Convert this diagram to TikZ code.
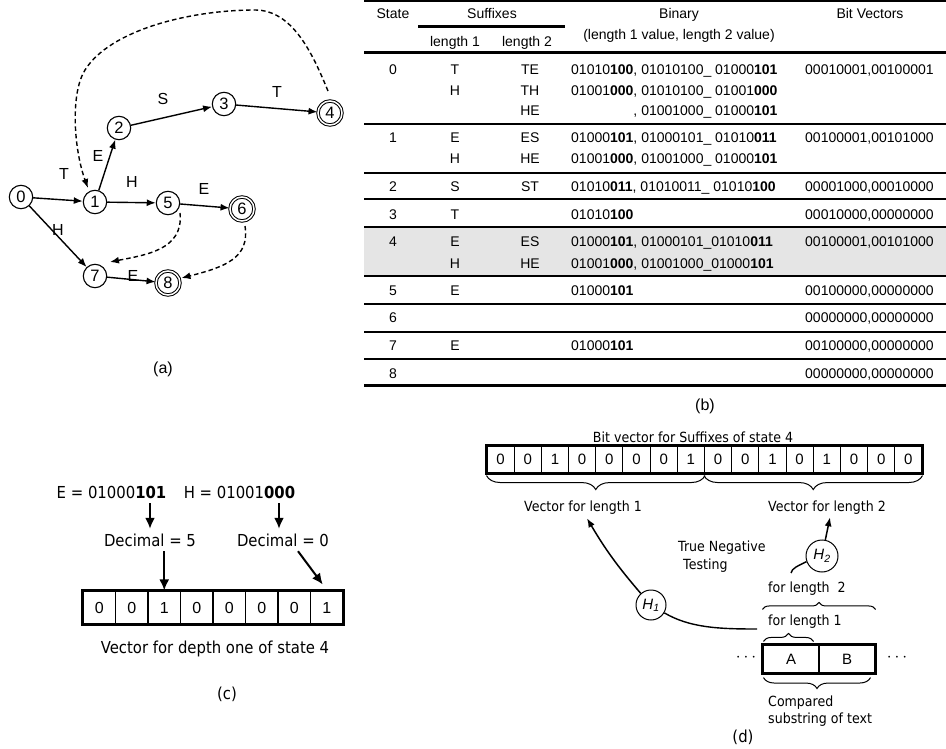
\documentclass[tikz,border=0pt]{standalone}
\usepackage{fontspec}
\setmainfont{Liberation Sans}
\newfontfamily\tah[FakeStretch=0.9]{DejaVu Sans}
\usetikzlibrary{arrows.meta,decorations.pathreplacing}
\begin{document}
\begin{tikzpicture}[x=1pt,y=-1pt,
  st/.style={circle,draw,line width=1.1pt,minimum size=23.4pt,inner sep=0pt,font=\fontsize{16.5}{18}\selectfont},
  acc/.style={st,double,double distance=1.5pt,line width=1pt,minimum size=24pt},
  ed/.style={-{Latex[length=9pt,width=7pt]},line width=1.4pt},
  dsh/.style={ed,dash pattern=on 4.5pt off 3pt},
  lb/.style={font=\fontsize{16}{18}\selectfont,inner sep=0pt,text height=11.5pt,text depth=0pt},
  tb/.style={font=\fontsize{14}{16}\selectfont,inner sep=0pt,text height=10pt,text depth=0pt},
  tbw/.style={tb,anchor=west},
  tahc/.style={font=\tah\fontsize{16.5}{19}\selectfont,inner sep=0pt,text height=12pt,text depth=0pt},
  tahd/.style={font=\tah\fontsize{14}{16}\selectfont,inner sep=0pt,text height=10.2pt,text depth=0pt},
  cellc/.style={draw,line width=1.1pt,inner sep=0pt,font=\fontsize{16}{18}\selectfont,minimum width=32.5pt,minimum height=33pt},
  celld/.style={draw,line width=1.1pt,inner sep=0pt,font=\fontsize{15}{17}\selectfont,minimum width=27.19pt,minimum height=27pt},
  arc/.style={-{Latex[length=11pt,width=10pt]},line width=2pt},
  ard/.style={-{Latex[length=9pt,width=7pt]},line width=1.5pt},
  brc/.style={decorate,line width=1pt}
]
\useasboundingbox (0,0) rectangle (946,749);

% ---------------- (a) automaton ----------------
\node[st]  (n0) at (21,197) {0};
\node[st]  (n1) at (95,202) {1};
\node[st]  (n2) at (119,128) {2};
\node[st]  (n3) at (224,104) {3};
\node[acc] (n4) at (330,113) {4};
\node[st]  (n5) at (168,203) {5};
\node[acc] (n6) at (242,209) {6};
\node[st]  (n7) at (95,276) {7};
\node[acc] (n8) at (168,283) {8};

\draw[ed] (n0) -- (n1);
\draw[ed] (n1) -- (n2);
\draw[ed] (n2) -- (n3);
\draw[ed] (n3) -- (n4);
\draw[ed] (n1) -- (n5);
\draw[ed] (n5) -- (n6);
\draw[ed] (n0) -- (n7);
\draw[ed] (n7) -- (n8);

\node[lb] (la1) at (64,174) {T};
\node[lb] (la2) at (98,156) {E};
\node[lb] (la3) at (163,99) {S};
\node[lb] (la4) at (277,92) {T};
\node[lb] (la5) at (132,182) {H};
\node[lb] (la6) at (204,189) {E};
\node[lb] (la7) at (58,230) {H};
\node[lb] (la8) at (133,276) {E};

\draw[dsh] ([xshift=-2pt,yshift=22pt]n4.center) .. controls (312,52) and (292,10) .. (255,10)
   .. controls (190,10) and (110,30) .. (85,70)
   .. controls (70,94) and (74,150) .. ([xshift=-7pt,yshift=14pt]n1.center);
\draw[dsh] ([xshift=12pt,yshift=-10pt]n5.center) .. controls (184,250) and (145,255) .. ([xshift=15pt,yshift=14pt]n7.center);
\draw[dsh] ([xshift=3pt,yshift=-17pt]n6.center) .. controls (250,258) and (225,267) .. ([xshift=13.5pt,yshift=5pt]n8.center);

\node[lb] (capa) at (163,368) {(a)};

% ---------------- (b) table ----------------
\fill[black!10] (364,227) rectangle (946,276);
\draw[line width=2pt] (364,1.5) -- (946,1.5);
\draw[line width=3pt] (418,27) -- (565,27);
\draw[line width=3pt] (364,53) -- (946,53);
\foreach \yy in {124,173,199,227,276,304,332,359}
  \draw[line width=1.5pt] (364,\yy) -- (946,\yy);
\draw[line width=3pt] (364,385) -- (946,385);

\node[tb] (hst) at (393,14) {State};
\node[tb] (hsu) at (492,14) {Suffixes};
\node[tb] (hbi) at (679,14) {Binary};
\node[tb] (hbv) at (870,14) {Bit Vectors};
\node[tb] (hl1) at (455,42) {length 1};
\node[tb] (hl2) at (527,42) {length 2};
\node[tb] (hbs) at (679,35) {(length 1 value, length 2 value)};

% row 0
\node[tb] (s0) at (393,70) {0};
\node[tb] (a0) at (455,70) {T};
\node[tb] (c0) at (530,70) {TE};
\node[tbw] (b0) at (571,70) {01010\textbf{100}, 01010100\_ 01000\textbf{101}};
\node[tbw] (v0) at (805,70) {00010001,00100001};
\node[tb] (a0b) at (455,91) {H};
\node[tb] (c0b) at (530,91) {TH};
\node[tbw] (b0b) at (571,91) {01001\textbf{000}, 01010100\_ 01001\textbf{000}};
\node[tb] (c0c) at (530,111) {HE};
\node[tb,anchor=east] (b0c) at (b0b.east |- 0,111) {, 01001000\_ 01000\textbf{101}};
% row 1
\node[tb] (s1) at (393,138) {1};
\node[tb] (a1) at (455,138) {E};
\node[tb] (c1r) at (530,138) {ES};
\node[tbw] (b1) at (571,138) {01000\textbf{101}, 01000101\_ 01010\textbf{011}};
\node[tbw] (v1) at (805,138) {00100001,00101000};
\node[tb] (a1b) at (455,159) {H};
\node[tb] (c1b) at (530,159) {HE};
\node[tbw] (b1b) at (571,159) {01001\textbf{000}, 01001000\_ 01000\textbf{101}};
% row 2
\node[tb] (s2) at (393,187) {2};
\node[tb] (a2) at (455,187) {S};
\node[tb] (c2r) at (530,187) {ST};
\node[tbw] (b2) at (571,187) {01010\textbf{011}, 01010011\_ 01010\textbf{100}};
\node[tbw] (v2) at (805,187) {00001000,00010000};
% row 3
\node[tb] (s3) at (393,214) {3};
\node[tb] (a3) at (455,214) {T};
\node[tbw] (b3) at (571,214) {01010\textbf{100}};
\node[tbw] (v3) at (805,214) {00010000,00000000};
% row 4
\node[tb] (s4) at (393,242) {4};
\node[tb] (a4) at (455,242) {E};
\node[tb] (c4r) at (530,242) {ES};
\node[tbw] (b4) at (571,242) {01000\textbf{101}, 01000101\_01010\textbf{011}};
\node[tbw] (v4) at (805,242) {00100001,00101000};
\node[tb] (a4b) at (455,263) {H};
\node[tb] (c4b) at (530,263) {HE};
\node[tbw] (b4b) at (571,263) {01001\textbf{000}, 01001000\_01000\textbf{101}};
% row 5
\node[tb] (s5) at (393,290) {5};
\node[tb] (a5) at (455,290) {E};
\node[tbw] (b5) at (571,290) {01000\textbf{101}};
\node[tbw] (v5) at (805,290) {00100000,00000000};
% row 6
\node[tb] (s6) at (393,317) {6};
\node[tbw] (v6) at (805,317) {00000000,00000000};
% row 7
\node[tb] (s7) at (393,345) {7};
\node[tb] (a7) at (455,345) {E};
\node[tbw] (b7) at (571,345) {01000\textbf{101}};
\node[tbw] (v7) at (805,345) {00100000,00000000};
% row 8
\node[tb] (s8) at (393,373) {8};
\node[tbw] (v8) at (805,373) {00000000,00000000};

\node[lb] (capb) at (705,405) {(b)};

% ---------------- (c) ----------------
\node[tahc,inner ysep=5pt] (eqe) at (111.5,492) {E = 01000\textbf{101}};
\node[tahc,inner ysep=5pt] (eqh) at (239.5,492) {H = 01001\textbf{000}};
\node[tahc,inner ysep=5pt] (dec5) at (150,540) {Decimal = 5};
\node[tahc,inner ysep=5pt] (dec0) at (283,540) {Decimal = 0};
\foreach \b [count=\i] in {0,0,1,0,0,0,0,1}
  \node[cellc] (c\i) at ({83+32.5*(\i-0.5)},607.5) {\b};
\draw[line width=3.5pt] (c1.north west) rectangle (c8.south east);
\draw[arc] (dec5.north |- eqe.south) -- (dec5.north);
\draw[arc] ([xshift=-4pt]dec0.north |- eqh.south) -- ([xshift=-4pt]dec0.north);
\draw[arc] (c3.north |- dec5.south) -- (c3.north);
\draw[arc] ([xshift=15pt]dec0.south) -- ([xshift=-4pt,yshift=6pt]c8.north);
\node[tahc] (vd1) at (215,647) {Vector for depth one of state 4};
\node[tahc] (capc) at (227,693) {(c)};

% ---------------- (d) ----------------
\node[tahd] (bvt) at (693,437) {Bit vector for Suffixes of state 4};
\foreach \b [count=\i] in {0,0,1,0,0,0,0,1,0,0,1,0,1,0,0,0}
  \node[celld] (d\i) at ({487+27.1875*(\i-0.5)},459.5) {\b};
\draw[line width=3.2pt] (d1.north west) rectangle (d16.south east);
\draw[brc,decoration={brace,mirror,amplitude=14pt,raise=2pt}] (d1.south west) -- (d8.south east);
\draw[brc,decoration={brace,mirror,amplitude=14pt,raise=2pt}] (d9.south west) -- (d16.south east);
\node[tahd] (vl1) at (583,506) {Vector for length 1};
\node[tahd] (vl2) at (827,506) {Vector for length 2};

\node[circle,draw,line width=1pt,minimum size=30pt,inner sep=0pt,font=\fontsize{15}{17}\selectfont] (h1) at (651,605) {\textit{H\textsubscript{1}}};
\node[circle,draw,line width=1pt,minimum size=32pt,inner sep=0pt,font=\fontsize{15}{17}\selectfont] (h2) at (822,556) {\textit{H\textsubscript{2}}};

\draw[ard] (h1) to[bend left=5] ([xshift=4pt,yshift=-7pt]vl1.south);
\draw[ard] (h2) -- ([xshift=3pt,yshift=-6pt]vl2.south);
\coordinate (h2t) at (791,573);
\draw[line width=1.4pt] (h2.-160) .. controls (798,566) and (792,568) .. (h2t);
\coordinate (h1t) at (757,629);
\draw[line width=1.4pt] (h1) .. controls (690,628) and (720,629) .. (h1t);

\node[tahd,anchor=west] (tn1) at (678,546) {True Negative};
\node[tahd,anchor=west] (tn2) at (683,564) {Testing};
\node[tahd,anchor=west] (fl2) at (768,587) {for length\ \ 2};
\node[tahd,anchor=west] (fl1) at (768,620) {for length 1};

\node[draw,line width=1.1pt,inner sep=0pt,minimum width=56pt,minimum height=28pt,font=\fontsize{15}{17}\selectfont] (ta) at (791,659) {A};
\node[draw,line width=1.1pt,inner sep=0pt,minimum width=56pt,minimum height=28pt,font=\fontsize{15}{17}\selectfont] (tb) at (847,659) {B};
\draw[line width=3.5pt] (ta.north west) rectangle (tb.south east);
\node[inner sep=0pt,font=\fontsize{17}{19}\selectfont] (dl) at (746,658) {$\cdots$};
\node[inner sep=0pt,font=\fontsize{17}{19}\selectfont] (dr) at (897,658) {$\cdots$};

\draw[brc,decoration={brace,amplitude=7pt}] ([yshift=35pt]ta.north west) -- ([yshift=35pt]tb.north east);
\draw[brc,decoration={brace,amplitude=8pt}] ([yshift=3pt,xshift=1pt]ta.north west) -- ([yshift=3pt,xshift=-6pt]ta.north east);
\draw[brc,decoration={brace,mirror,amplitude=11pt}] ([yshift=-4pt,xshift=1pt]ta.south west) -- ([yshift=-4pt,xshift=-5pt]tb.south east);

\node[tahd,anchor=west] (cmp1) at (768,701) {Compared};
\node[tahd,anchor=west] (cmp2) at (768,718) {substring of text};
\node[tahc] (capd) at (743,736) {(d)};
\end{tikzpicture}
\end{document}
